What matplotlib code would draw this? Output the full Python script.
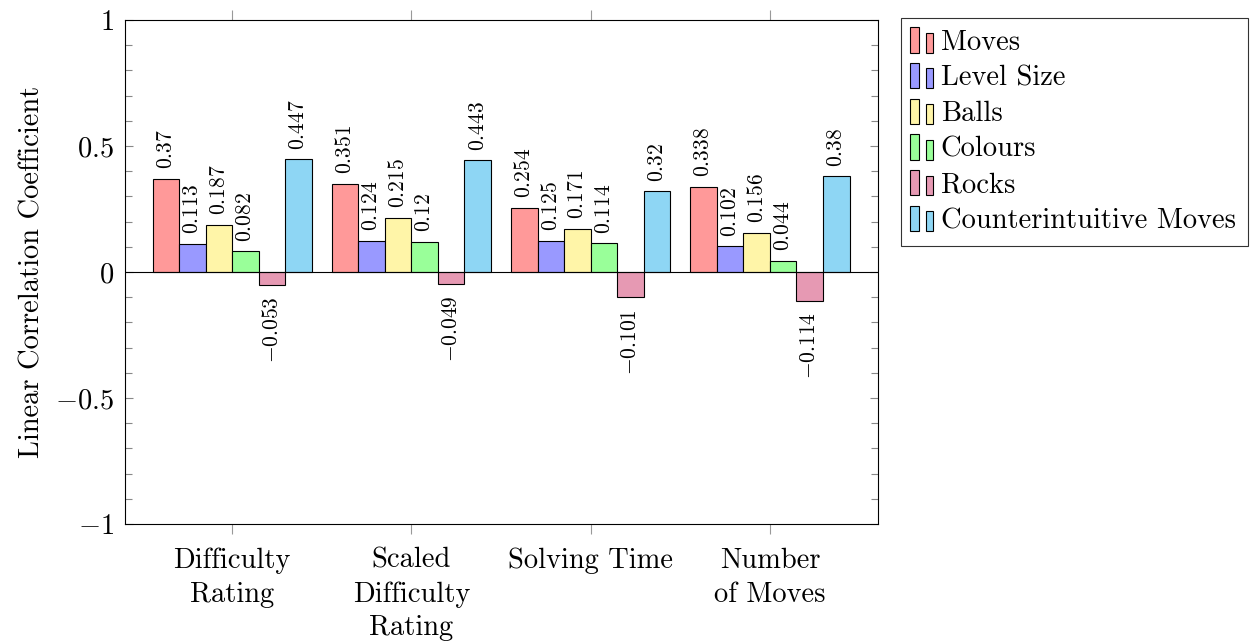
import matplotlib
matplotlib.use("Agg")
import matplotlib.pyplot as plt
from matplotlib.legend_handler import HandlerBase
from matplotlib.patches import Rectangle
from matplotlib.ticker import MultipleLocator
import numpy as np

plt.rcParams['font.family'] = ['cmr10', 'DejaVu Serif']
plt.rcParams['mathtext.fontset'] = 'cm'
plt.rcParams['axes.formatter.use_mathtext'] = True
plt.rcParams['axes.unicode_minus'] = True

categories = ["Difficulty\nRating", "Scaled\nDifficulty\nRating", "Solving Time", "Number\nof Moves"]
series_names = ["Moves", "Level Size", "Balls", "Colours", "Rocks", "Counterintuitive Moves"]
moves = [0.37, 0.351, 0.254, 0.338]
level_size = [0.113, 0.124, 0.125, 0.102]
balls = [0.187, 0.215, 0.171, 0.156]
colours = [0.082, 0.12, 0.114, 0.044]
rocks = [-0.053, -0.049, -0.101, -0.114]
counterintuitive = [0.447, 0.443, 0.32, 0.38]
series = [moves, level_size, balls, colours, rocks, counterintuitive]
colors = ["#FF9999", "#9999FF", "#FFF5A8", "#99FF99", "#E699B3", "#8ED6F4"]
ytick_vals = [-1, -0.5, 0, 0.5, 1]
ytick_labels = [r"$-1$", r"$-0.5$", r"$0$", r"$0.5$", r"$1$"]

FS = 20.5
VFS = 15.5

fig = plt.figure(figsize=(12.5, 6.44), dpi=100)
ax = fig.add_axes([0.1, 0.1863, 0.6024, 0.7826])

x = np.arange(len(categories))
w = 0.148
n = len(series)

class TwoBarHandler(HandlerBase):
    def create_artists(self, legend, orig_handle, xdescent, ydescent, width, height, fontsize, trans):
        fc = orig_handle.get_facecolor()
        r1 = Rectangle((-xdescent - 1.5, -ydescent - 2), 5.8, height + 4, facecolor=fc,
                       edgecolor='black', linewidth=0.8, transform=trans)
        r2 = Rectangle((-xdescent + 10, -ydescent - 2), 5, height, facecolor=fc,
                       edgecolor='black', linewidth=0.8, transform=trans)
        return [r1, r2]

handles = []
for j, (vals, c, name) in enumerate(zip(series, colors, series_names)):
    pos = x + (j - (n - 1) / 2) * w
    bars = ax.bar(pos, vals, width=w, color=c, edgecolor='black', linewidth=0.8, label=name, zorder=3)
    handles.append(bars[0])
    for px, v in zip(pos, vals):
        txt = r"$%g$" % v
        if v >= 0:
            ax.annotate(txt, (px, v), xytext=(0, 7), textcoords='offset points',
                        rotation=90, ha='center', va='bottom', fontsize=VFS)
        else:
            ax.annotate(txt, (px, v), xytext=(0, -8), textcoords='offset points',
                        rotation=90, ha='center', va='top', fontsize=VFS)

ax.axhline(0, color='black', linewidth=0.8, zorder=4)

ax.set_xlim(-0.598, 3.603)
ax.set_ylim(-1, 1)
ax.set_xticks(x)
ax.set_xticklabels(categories, fontsize=FS, linespacing=1.36)
ax.set_yticks(ytick_vals)
ax.set_yticklabels(ytick_labels, fontsize=FS)
ax.yaxis.set_minor_locator(MultipleLocator(0.1))
ax.tick_params(axis='y', which='both', direction='in', left=True, right=True, color='#888888', width=0.8, pad=8)
ax.tick_params(axis='y', which='major', length=6)
ax.tick_params(axis='y', which='minor', length=5)
ax.tick_params(axis='x', which='major', direction='out', top=True, bottom=True, length=7,
               color='#999999', width=0.8, pad=10)
ax.set_ylabel("Linear Correlation Coefficient", fontsize=FS, labelpad=7)
for s in ax.spines.values():
    s.set_linewidth(0.8)

leg = ax.legend(handles=handles, labels=series_names, handler_map={h: TwoBarHandler() for h in handles},
                loc='upper left', bbox_to_anchor=(1.03, 1.005), fontsize=FS, frameon=True, fancybox=False,
                edgecolor='black', handlelength=0.74, handletextpad=0.25, labelspacing=0.33,
                borderpad=0.42, borderaxespad=0)
leg.get_frame().set_linewidth(0.8)

fig.savefig("out.png", dpi=100)
